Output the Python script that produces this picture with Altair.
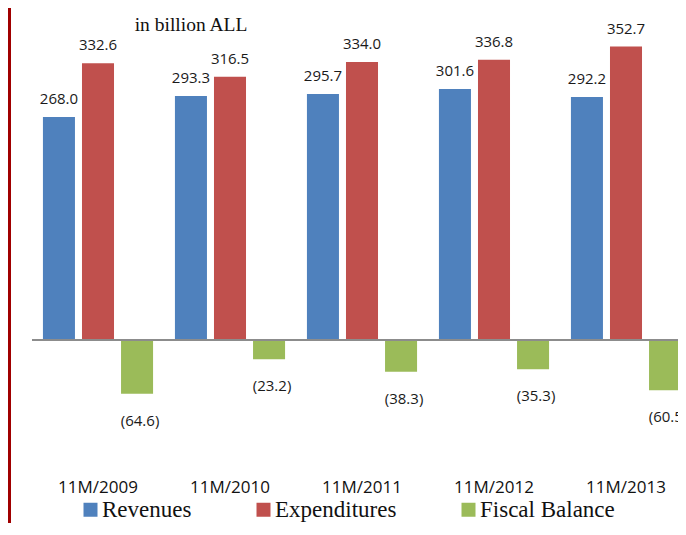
import altair as alt
import pandas as pd

periods = ["11M/2009", "11M/2010", "11M/2011", "11M/2012", "11M/2013"]
series_names = ["Revenues", "Expenditures", "Fiscal Balance"]
revenues = [268.0, 293.3, 295.7, 301.6, 292.2]
expenditures = [332.6, 316.5, 334.0, 336.8, 352.7]
fiscal_balance = [-64.6, -23.2, -38.3, -35.3, -60.5]
colors = ["#4F81BD", "#C0504D", "#9BBB59"]
unit_note = "in billion ALL"

rows = []
for i, p in enumerate(periods):
    for s, vals in zip(series_names, [revenues, expenditures, fiscal_balance]):
        v = vals[i]
        lab = f"{v:.1f}" if v >= 0 else f"({abs(v):.1f})"
        rows.append({"period": p, "series": s, "value": v, "label": lab})
df = pd.DataFrame(rows)

LEFT = 24
W = 670 - LEFT          # svg stays inside the 686px window
H = 462
TOTAL_H = 515
x_enc = alt.X("period:N", sort=periods, title=None,
              scale=alt.Scale(range=[0, 660], paddingInner=0, paddingOuter=0),
              axis=alt.Axis(domain=False, ticks=False, labelAngle=0,
                            labelFont="Open Sans", labelFontSize=17,
                            labelColor="#111111", labelPadding=9, grid=False))
xo_enc = alt.XOffset("series:N", sort=series_names,
                     scale=alt.Scale(paddingInner=0.18, paddingOuter=0.28))
ydom = [-156.25, 399.04]
y_enc = alt.Y("value:Q", title=None,
              scale=alt.Scale(domain=ydom, nice=False, zero=False),
              axis=None)

base = alt.Chart(df)

bars = base.mark_bar().encode(
    x=x_enc, xOffset=xo_enc, y=y_enc, y2=alt.datum(0),
    color=alt.Color("series:N", sort=series_names,
                    scale=alt.Scale(domain=series_names, range=colors),
                    legend=alt.Legend(title=None, orient="none", legendX=47, legendY=490,
                                      direction="horizontal", symbolType="square",
                                      symbolSize=196, symbolStrokeWidth=0,
                                      symbolOpacity=1,
                                      labelFont="Liberation Serif", labelFontSize=23,
                                      labelColor="#111111", columnPadding=60,
                                      labelOffset=0, labelLimit=300)),
)

pos_labels = base.transform_filter("datum.value >= 0").mark_text(
    font="Open Sans", fontSize=15, color="#1a1a1a", baseline="middle", dy=-18
).encode(x=x_enc, xOffset=xo_enc, y=y_enc, text="label:N")

neg_labels = base.transform_filter("datum.value < 0").mark_text(
    font="Open Sans", fontSize=15, color="#1a1a1a", baseline="middle", dy=27, dx=3
).encode(x=x_enc, xOffset=xo_enc, y=y_enc, text="label:N")

zero_line = alt.Chart(pd.DataFrame({"z": [0]})).mark_rule(
    color="#8c8c8c", strokeWidth=2
).encode(y=alt.Y("z:Q", scale=alt.Scale(domain=ydom, nice=False, zero=False), axis=None),
         x=alt.value(0), x2=alt.value(660))

note = alt.Chart(pd.DataFrame({"t": [unit_note]})).mark_text(
    font="Liberation Serif", fontSize=19.5, color="#111111", baseline="middle", align="center"
).encode(x=alt.value(191 - 8 - LEFT), y=alt.value(17), text="t:N")

border = alt.Chart(pd.DataFrame({"b": [0]})).mark_rule(
    color="#A00000", strokeWidth=3
).encode(x=alt.value(-LEFT + 1.5), y=alt.value(0), y2=alt.value(TOTAL_H))

chart = alt.layer(bars, zero_line, pos_labels, neg_labels, note, border).properties(
    width=W, height=H,
    autosize=alt.AutoSizeParams(type="none"),
    padding={"left": LEFT, "top": 0, "right": 0, "bottom": TOTAL_H - H},
    background="white",
).configure_view(stroke=None)

chart.save("out.html", embed_options={"renderer": "svg", "actions": False})
